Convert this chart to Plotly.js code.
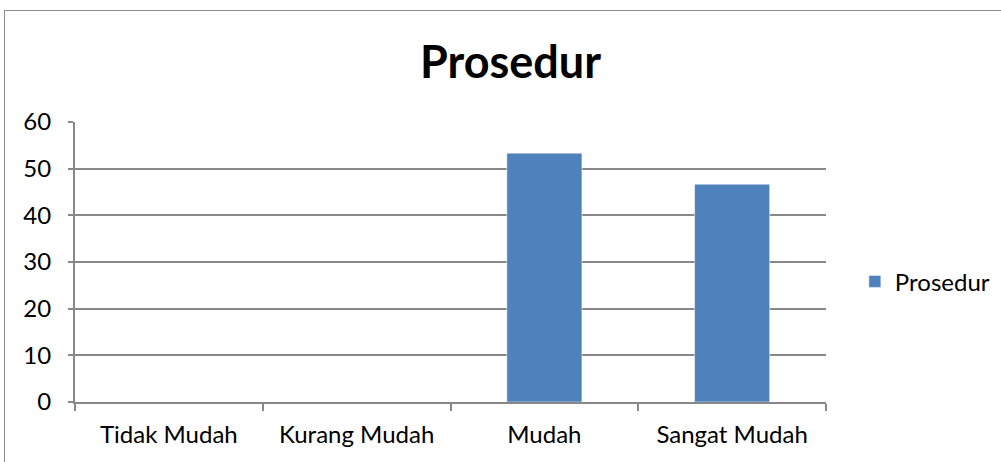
<!DOCTYPE html>
<html><head><meta charset="utf-8">
<script src="https://cdn.plot.ly/plotly-3.0.1.min.js"></script>
<style>
html,body{margin:0;padding:0;background:#fff;overflow:hidden}
#frame{position:absolute;left:4px;top:10px;width:1100px;height:600px;border:1.5px solid #8c8c8c;box-sizing:border-box;pointer-events:none;z-index:5}
#chart{position:absolute;left:0;top:0;width:1001px;height:462px}
</style></head>
<body>
<div id="chart"></div>
<div id="frame"></div>
<script>
const categories = ["Tidak Mudah", "Kurang Mudah", "Mudah", "Sangat Mudah"];
const values = [0, 0, 53.33, 46.67];
const seriesName = "Prosedur";
const yTicks = [0, 10, 20, 30, 40, 50, 60];

const font = "Lato, 'Open Sans', sans-serif";
Plotly.newPlot("chart", [{
  type: "bar",
  x: categories,
  y: values,
  name: seriesName,
  marker: {color: "#4f81bd", line: {color: "#ffffff", width: 0.5}},
  showlegend: true,
  hoverinfo: "none"
}], {
  width: 1001, height: 462,
  margin: {l: 75, r: 175, t: 122, b: 60},
  paper_bgcolor: "#ffffff", plot_bgcolor: "#ffffff",
  bargap: 0.6,
  title: {text: "<b>Prosedur</b>", x: 0.51, xanchor: "center", y: 0.865, yanchor: "middle",
          font: {family: font, size: 45, color: "#000"}},
  xaxis: {
    type: "category", tickson: "boundaries", ticks: "outside", ticklen: 7, tickcolor: "#888", tickwidth: 2,
    showline: true, linecolor: "#888", linewidth: 2, showgrid: false,
    tickfont: {family: font, size: 24, color: "#000"}, ticklabelstandoff: 10
  },
  yaxis: {
    range: [0, 60], tickvals: yTicks, ticktext: yTicks.map(String),
    ticks: "outside", ticklen: 5, tickcolor: "#888", tickwidth: 2,
    showline: true, linecolor: "#888", linewidth: 2,
    showgrid: true, gridcolor: "#888", gridwidth: 2, zeroline: false,
    tickfont: {family: font, size: 24, color: "#000"}, ticklabelstandoff: 12
  },
  legend: {xref: "container", yref: "container", x: 0.854, xanchor: "left", y: 0.39, yanchor: "middle",
           font: {family: font, size: 24, color: "#000"}, itemwidth: 30}
}, {staticPlot: true, displayModeBar: false});
</script>
</body></html>
